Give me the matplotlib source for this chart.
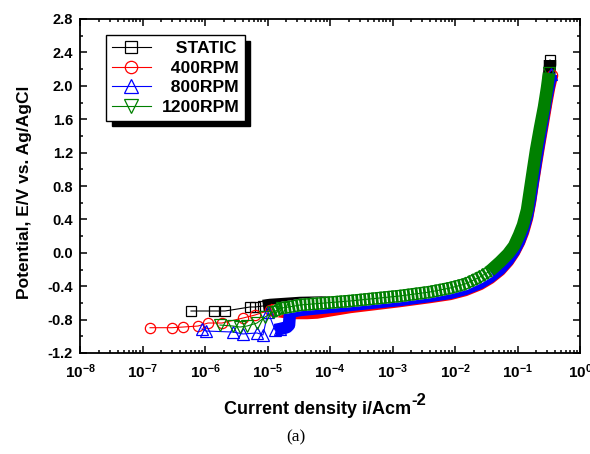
import matplotlib
matplotlib.use('Agg')
import matplotlib.pyplot as plt
import matplotlib.patheffects as pe
from matplotlib.ticker import FixedLocator, FixedFormatter, LogLocator, NullFormatter, MultipleLocator

plt.rcParams['font.family'] = ['Liberation Sans', 'DejaVu Sans']
plt.rcParams['font.weight'] = 'bold'
plt.rcParams['mathtext.fontset'] = 'custom'
plt.rcParams['mathtext.bf'] = 'Liberation Sans:bold'
plt.rcParams['mathtext.rm'] = 'Liberation Sans:bold'
plt.rcParams['mathtext.default'] = 'bf'

# ---------------- data ----------------
series_labels = ['STATIC', '400RPM', '800RPM', '1200RPM']
legend_labels = ['   STATIC', '  400RPM', '  800RPM', '1200RPM']

static_i = [5.97e-7, 1.39e-6, 2.09e-6, 5.25e-6, 6.31e-6, 8.47e-6, 1.10e-5, 1.91e-5,
            3.31e-5, 2.09e-4, 1.32e-3, 3.98e-3, 8.32e-3, 1.45e-2, 2.51e-2, 3.63e-2,
            5.25e-2, 7.05e-2, 9.12e-2, 0.1096, 0.127, 0.147, 0.1644, 0.1837, 0.2051,
            0.2377, 0.2754, 0.3076, 0.331, 0.331]
static_e = [-0.697, -0.697, -0.697, -0.649, -0.649, -0.637, -0.625, -0.613,
            -0.601, -0.589, -0.529, -0.481, -0.434, -0.386, -0.302, -0.230,
            -0.122, -0.026, 0.081, 0.213, 0.333, 0.513, 0.752, 0.992, 1.231,
            1.495, 1.746, 1.974, 2.249, 2.309]

rpm400_i = [1.32e-7, 2.96e-7, 4.45e-7, 7.73e-7, 1.12e-6, 1.87e-6, 4.06e-6, 6.31e-6,
            1.10e-5, 2.56e-5, 4.29e-5, 6.19e-5, 2.09e-4, 1.32e-3, 3.98e-3, 8.32e-3,
            1.45e-2, 2.51e-2, 3.63e-2, 5.25e-2, 7.05e-2, 8.79e-2, 0.106, 0.1225,
            0.142, 0.1585, 0.177, 0.198, 0.221, 0.256, 0.286, 0.319, 0.3565]
rpm400_e = [-0.897, -0.897, -0.889, -0.877, -0.841, -0.841, -0.781, -0.745,
            -0.685, -0.721, -0.721, -0.715, -0.649, -0.577, -0.529, -0.493,
            -0.446, -0.374, -0.302, -0.206, -0.098, 0.010, 0.129, 0.249,
            0.417, 0.608, 0.848, 1.075, 1.291, 1.566, 1.782, 1.974, 2.129]

rpm800_i = [8.95e-7, 1.04e-6, 2.81e-6, 4.06e-6, 6.79e-6, 8.47e-6, 1.02e-5, 1.32e-5,
            1.585e-5, 1.84e-5, 2.05e-5, 2.21e-5, 2.29e-5, 3.31e-5, 2.09e-4, 1.32e-3,
            3.98e-3, 8.32e-3, 1.45e-2, 2.51e-2, 3.63e-2, 5.25e-2, 7.05e-2, 8.79e-2,
            0.106, 0.1225, 0.142, 0.1585, 0.177, 0.198, 0.221, 0.256, 0.286, 0.319,
            0.344]
rpm800_e = [-0.913, -0.937, -0.949, -0.972, -0.960, -0.984, -0.709, -0.925,
            -0.913, -0.901, -0.889, -0.865, -0.709, -0.685, -0.625, -0.565,
            -0.517, -0.481, -0.434, -0.362, -0.290, -0.194, -0.086, 0.022,
            0.141, 0.273, 0.441, 0.632, 0.872, 1.111, 1.327, 1.614, 1.830, 2.010,
            2.141]

rpm1200_i = [1.74e-6, 2.81e-6, 3.63e-6, 4.70e-6, 6.79e-6, 9.12e-6, 1.225e-5, 1.71e-5,
             2.47e-5, 3.31e-5, 2.09e-4, 1.32e-3, 3.98e-3, 8.32e-3, 1.45e-2, 2.51e-2,
             3.63e-2, 5.25e-2, 7.05e-2, 8.79e-2, 0.106, 0.1225, 0.142, 0.1585,
             0.177, 0.198, 0.229, 0.2655, 0.2965, 0.319]
rpm1200_e = [-0.865, -0.877, -0.889, -0.877, -0.841, -0.769, -0.709, -0.661,
             -0.643, -0.625, -0.577, -0.517, -0.469, -0.422, -0.374, -0.290,
             -0.218, -0.110, -0.014, 0.081, 0.213, 0.333, 0.513, 0.752,
             0.992, 1.231, 1.495, 1.746, 1.974, 2.153]

# index where the densely sampled part of each scan begins, and (for the
# top-most scan) where its open, hatch-like passive stretch ends
band_start = [5, 8, 7, 6]
hatch_end = [0, 0, 0, 16]

x_ticks = [1e-8, 1e-7, 1e-6, 1e-5, 1e-4, 1e-3, 1e-2, 1e-1, 1e0]
x_tick_labels = ['$10^{-8}$', '$10^{-7}$', '$10^{-6}$', '$10^{-5}$', '$10^{-4}$',
                 '$10^{-3}$', '$10^{-2}$', '$10^{-1}$', '$10^{0}$']
y_ticks = [-1.2, -0.8, -0.4, 0.0, 0.4, 0.8, 1.2, 1.6, 2.0, 2.4, 2.8]
y_tick_labels = ['-1.2', '-0.8', '-0.4', '0.0', '0.4', '0.8', '1.2', '1.6', '2.0', '2.4', '2.8']

# ---------------- styling ----------------
colors = ['#000000', '#ff0000', '#0000ff', '#008000']
markers = ['s', 'o', '^', 'v']
msizes = [7.2, 7.4, 8.2, 8.8]
band_lw = 9.0

fig = plt.figure(figsize=(5.9, 4.54), dpi=100)
ax = fig.add_axes([80/590, 1-353/454, 500/590, 334/454])

data = [(static_i, static_e), (rpm400_i, rpm400_e), (rpm800_i, rpm800_e), (rpm1200_i, rpm1200_e)]
handles = []
for k, ((xi, ye), c, m, ms, b, h_end) in enumerate(zip(data, colors, markers, msizes,
                                                       band_start, hatch_end)):
    z = 2 + k
    n = len(xi)
    if h_end > b:
        # opaque backing so lower scans do not show through the open stretch
        ax.plot(xi[b:h_end + 1], ye[b:h_end + 1], color='white', lw=band_lw,
                solid_capstyle='butt', zorder=z - 0.05)
        ax.plot(xi[b:h_end + 1], ye[b:h_end + 1], color=c, lw=band_lw,
                dashes=(0.22, 0.1), dash_capstyle='butt', zorder=z)
        edge, = ax.plot(xi[b:h_end + 1], ye[b:h_end + 1], color=c, lw=1.0, zorder=z)
        edge.set_path_effects([pe.Stroke(offset=(0, band_lw / 2 - 0.5)),
                               pe.Stroke(offset=(0, -band_lw / 2 + 0.5))])
        ax.plot(xi[h_end:], ye[h_end:], color=c, lw=band_lw, solid_capstyle='butt',
                solid_joinstyle='round', zorder=z)
    else:
        ax.plot(xi[b:], ye[b:], color=c, lw=band_lw, solid_capstyle='butt',
                solid_joinstyle='round', zorder=z)
    h, = ax.plot(xi, ye, color=c, lw=0.8, marker=m, ms=ms, mfc='none', mec=c,
                 mew=0.9, zorder=z + 0.1, markevery=list(range(b + 2)) + [n - 1])
    handles.append(h)

ax.set_xscale('log')
ax.set_xlim(1e-8, 1e0)
ax.set_ylim(-1.2, 2.8)
ax.xaxis.set_major_locator(FixedLocator(x_ticks))
ax.xaxis.set_major_formatter(FixedFormatter(x_tick_labels))
ax.xaxis.set_minor_locator(LogLocator(base=10, subs=[2, 3, 4, 5, 6, 7, 8, 9], numticks=20))
ax.xaxis.set_minor_formatter(NullFormatter())
ax.yaxis.set_major_locator(FixedLocator(y_ticks))
ax.yaxis.set_major_formatter(FixedFormatter(y_tick_labels))
ax.yaxis.set_minor_locator(MultipleLocator(0.2))

ax.tick_params(which='both', direction='in', top=True, right=True, width=1.1)
ax.tick_params(which='major', length=5, labelsize=10.5, pad=5)
ax.tick_params(which='minor', length=2.5)
ax.tick_params(axis='x', which='major', pad=7, labelsize=11)
for s in ax.spines.values():
    s.set_linewidth(1.3)

ax.set_ylabel('Potential, E/V vs. Ag/AgCl', fontsize=12.5, fontweight='bold')
ax.yaxis.set_label_coords((32-80)/500, (353-192)/334)

xl = fig.text(224/590, 1-414/454, 'Current density i/Acm', fontsize=13,
              fontweight='bold', ha='left', va='baseline')
ax.annotate('-2', xy=(1.0, 0.6), xycoords=xl, fontsize=12, fontweight='bold',
            ha='left', va='bottom', annotation_clip=False)

fig.text(296/590, 1-437/454, '(a)', family=['Liberation Serif'], fontweight='normal',
         fontsize=12.5, ha='center', va='center')

leg = ax.legend(handles, legend_labels, loc='upper left', bbox_to_anchor=(0.052, 0.952),
                borderaxespad=0, fontsize=12.6, handlelength=2.25, handletextpad=0.6,
                labelspacing=0.26, borderpad=0.32, fancybox=False, framealpha=1,
                edgecolor='black', markerscale=1.2,
                shadow={'ox': 4, 'oy': -4, 'facecolor': 'black', 'edgecolor': 'black', 'alpha': 1})
leg.get_frame().set_linewidth(1.0)
for t in leg.get_texts():
    t.set_fontweight('bold')

fig.savefig('out.png', dpi=100)
